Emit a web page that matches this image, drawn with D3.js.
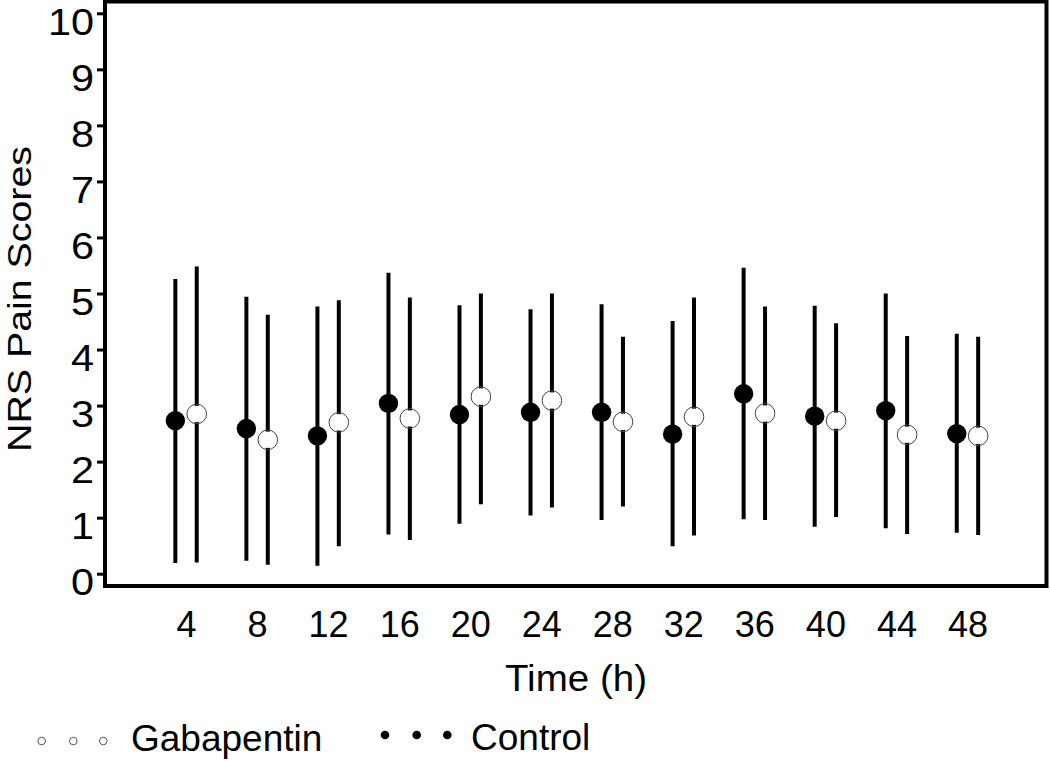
<!DOCTYPE html>
<html>
<head>
<meta charset="utf-8">
<script src="https://cdn.jsdelivr.net/npm/d3@7/dist/d3.min.js"></script>
<style>
  html, body { margin: 0; padding: 0; background: #fff; }
  svg { display: block; }
  text { font-family: "Liberation Sans", Arial, Helvetica, sans-serif; fill: #000; }
</style>
</head>
<body>
<svg id="chart" width="1050" height="761"></svg>
<script>
// ---- data ----
const hours = [4, 8, 12, 16, 20, 24, 28, 32, 36, 40, 44, 48];
const controlMean = [2.73, 2.59, 2.46, 3.04, 2.84, 2.88, 2.88, 2.49, 3.21, 2.81, 2.91, 2.50];
const controlHigh = [5.26, 4.94, 4.77, 5.37, 4.79, 4.72, 4.81, 4.51, 5.46, 4.78, 5.00, 4.28];
const controlLow  = [0.19, 0.23, 0.14, 0.70, 0.89, 1.04, 0.96, 0.49, 0.97, 0.84, 0.81, 0.73];
const gabaMean = [2.85, 2.39, 2.70, 2.77, 3.16, 3.09, 2.71, 2.80, 2.86, 2.73, 2.48, 2.46];
const gabaHigh = [5.48, 4.62, 4.88, 4.93, 5.00, 5.00, 4.23, 4.93, 4.77, 4.47, 4.24, 4.23];
const gabaLow  = [0.20, 0.16, 0.49, 0.60, 1.24, 1.18, 1.20, 0.68, 0.96, 1.01, 0.71, 0.69];
const yTicks = [0, 1, 2, 3, 4, 5, 6, 7, 8, 9, 10];
const seriesNames = ["Gabapentin", "Control"];

// ---- layout ----
const frame = { left: 105, right: 1046.5, top: 1.5, bottom: 586 };
const svg = d3.select("#chart");

const x = d3.scaleLinear().domain([0, 52]).range([115, 1038.5]);
const y = d3.scaleLinear().domain([0, 10]).range([573.7, 13.3]);
const offset = 10.7;

// frame
svg.append("rect")
  .attr("x", frame.left).attr("y", frame.top)
  .attr("width", frame.right - frame.left).attr("height", frame.bottom - frame.top)
  .attr("fill", "none").attr("stroke", "#000").attr("stroke-width", 4);

// y axis
const yAxis = svg.append("g")
  .attr("transform", `translate(${frame.left - 1},0)`)
  .call(d3.axisLeft(y).tickValues(yTicks).tickSize(7).tickPadding(3).tickFormat(d3.format("d")));
yAxis.select(".domain").remove();
yAxis.selectAll(".tick line").attr("stroke", "#000").attr("stroke-width", 3);
const sx = 1.12;
yAxis.selectAll(".tick text")
  .attr("font-size", 37).attr("dy", "0.56em")
  .attr("x", -10 / sx)
  .attr("transform", `scale(${sx},1)`)
  .style("font-family", '"Liberation Sans", Arial, sans-serif').attr("fill", "#000");

// x axis (labels only)
const xAxis = svg.append("g")
  .attr("transform", `translate(0,${frame.bottom})`)
  .call(d3.axisBottom(x).tickValues(hours).tickSize(0).tickFormat(d3.format("d")));
xAxis.select(".domain").remove();
xAxis.selectAll(".tick text")
  .attr("font-size", 36).attr("y", 51).attr("dy", 0)
  .style("font-family", '"Liberation Sans", Arial, sans-serif').attr("fill", "#000");

// axis titles
svg.append("text")
  .attr("x", 576).attr("y", 691)
  .attr("text-anchor", "middle").attr("font-size", 36)
  .attr("textLength", 142).attr("lengthAdjust", "spacingAndGlyphs")
  .text("Time (h)");
svg.append("text")
  .attr("transform", "translate(31,299) rotate(-90)")
  .attr("text-anchor", "middle").attr("font-size", 34)
  .attr("textLength", 306).attr("lengthAdjust", "spacingAndGlyphs")
  .text("NRS Pain Scores");

// ---- error bars ----
const ctrl = hours.map((h, i) => ({ h, m: controlMean[i], lo: controlLow[i], hi: controlHigh[i] }));
const gaba = hours.map((h, i) => ({ h, m: gabaMean[i], lo: gabaLow[i], hi: gabaHigh[i] }));

svg.append("g").selectAll("line").data(ctrl).join("line")
  .attr("x1", d => x(d.h) - offset).attr("x2", d => x(d.h) - offset)
  .attr("y1", d => y(d.lo)).attr("y2", d => y(d.hi))
  .attr("stroke", "#000").attr("stroke-width", 4);
svg.append("g").selectAll("line").data(gaba).join("line")
  .attr("x1", d => x(d.h) + offset).attr("x2", d => x(d.h) + offset)
  .attr("y1", d => y(d.lo)).attr("y2", d => y(d.hi))
  .attr("stroke", "#000").attr("stroke-width", 4);

// control markers (filled)
svg.append("g").selectAll("circle").data(ctrl).join("circle")
  .attr("cx", d => x(d.h) - offset).attr("cy", d => y(d.m))
  .attr("r", 9.7).attr("fill", "#000");

// gabapentin markers (open)
const gG = svg.append("g");
gG.selectAll("circle.fill").data(gaba).join("circle")
  .attr("class", "fill")
  .attr("cx", d => x(d.h) + offset).attr("cy", d => y(d.m))
  .attr("r", 8.3).attr("fill", "#fff");
gG.selectAll("circle.ring").data(gaba).join("circle")
  .attr("class", "ring")
  .attr("cx", d => x(d.h) + offset).attr("cy", d => y(d.m))
  .attr("r", 9.8).attr("fill", "none").attr("stroke", "#444").attr("stroke-width", 1);

// ---- legend ----
const legend = svg.append("g");
[41.7, 73.3, 103.3].forEach(cx => {
  legend.append("circle").attr("cx", cx).attr("cy", 741).attr("r", 3.8)
    .attr("fill", "#fff").attr("stroke", "#555").attr("stroke-width", 1);
});
legend.append("text").attr("x", 131).attr("y", 751).attr("font-size", 37).text(seriesNames[0]);
[385, 416.7, 447.3].forEach(cx => {
  legend.append("circle").attr("cx", cx).attr("cy", 735).attr("r", 4.3).attr("fill", "#000");
});
legend.append("text").attr("x", 471).attr("y", 750).attr("font-size", 37).text(seriesNames[1]);
</script>
</body>
</html>
